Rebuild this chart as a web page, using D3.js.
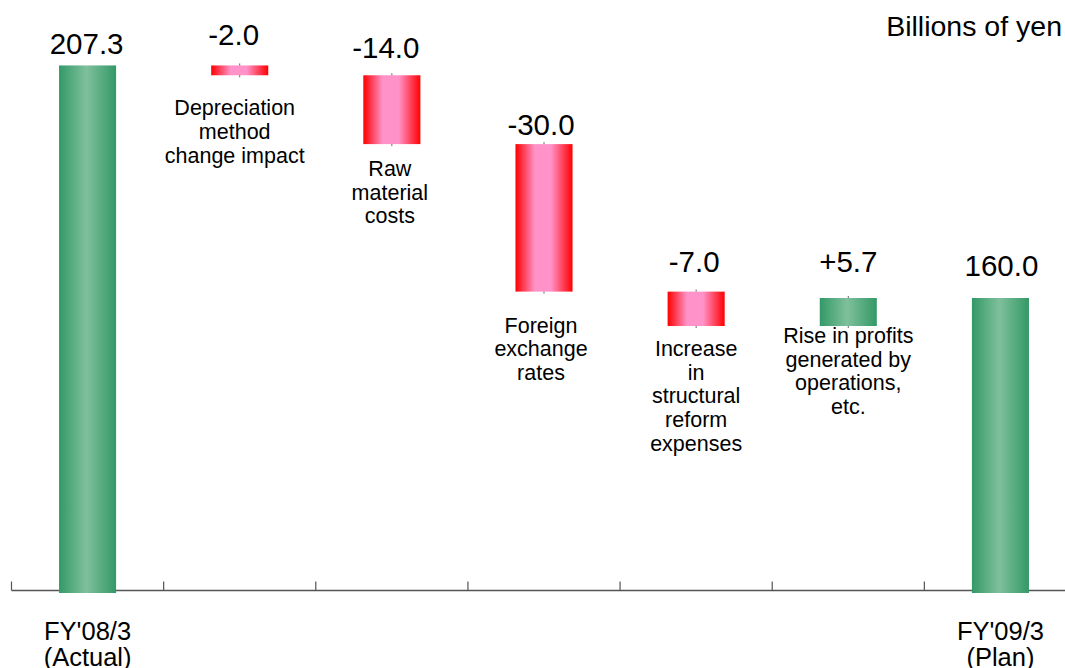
<!DOCTYPE html>
<html>
<head>
<meta charset="utf-8">
<script src="https://cdn.jsdelivr.net/npm/d3@7"></script>
<style>
  body { margin: 0; background: #fff; }
  svg { display: block; font-family: "Liberation Sans", Arial, sans-serif; }
</style>
</head>
<body>
<div id="chart"></div>
<script>
const width = 1065;
const height = 668;

// Chart data
const categories = ['FY08', 'Depreciation', 'RawMaterial', 'FX', 'Restructuring', 'Operations', 'FY09'];
const values = [207.3, -2.0, -14.0, -30.0, -7.0, 5.7, 160.0];
const kinds = ['total', 'delta', 'delta', 'delta', 'delta', 'delta', 'total'];
const valueLabels = ['207.3', '-2.0', '-14.0', '-30.0', '-7.0', '+5.7', '160.0'];
const categoryLabels = [
    ["FY'08/3", '(Actual)'],
    ['Depreciation', 'method', 'change impact'],
    ['Raw', 'material', 'costs'],
    ['Foreign', 'exchange', 'rates'],
    ['Increase', 'in', 'structural', 'reform', 'expenses'],
    ['Rise in profits', 'generated by', 'operations,', 'etc.'],
    ["FY'09/3", '(Plan)']
];
const unitLabel = 'Billions of yen';
const yDomain = [100, 220];

// hand placed label nudges (pixels), like the original slide
const valueGap = [11, 20, 17, 9, 20, 26, 22];
const valueDx = [-1, -6, -6, -3, -2, 0, 1];
const catGap = [0, 40, 32, 41, 30, 17, 0];
const catDx = [0, -5, -2, -3, 0, 0, 0];

// Build the waterfall steps
let running = 0;
const bars = categories.map((c, i) => {
    let lo, hi;
    if (kinds[i] === 'total') {
        lo = yDomain[0];
        hi = values[i];
        running = values[i];
    } else {
        const start = running;
        running = start + values[i];
        lo = Math.min(start, running);
        hi = Math.max(start, running);
    }
    return { key: c, i: i, lo: lo, hi: hi, kind: kinds[i], value: values[i] };
});

const x = d3.scaleBand()
    .domain(categories)
    .range([11.5, 1076.5])
    .padding(0);

const y = d3.scaleLinear()
    .domain(yDomain)
    .range([593, 3]);

const barWidth = x.bandwidth() * 0.375;
const axisY = 590.5;

const svg = d3.select('#chart').append('svg')
    .attr('width', width)
    .attr('height', height);

// Gradients for the bars
const defs = svg.append('defs');
const green = defs.append('linearGradient').attr('id', 'gradGreen');
green.append('stop').attr('offset', '0%').attr('stop-color', '#339966');
green.append('stop').attr('offset', '48%').attr('stop-color', '#7fc09c');
green.append('stop').attr('offset', '100%').attr('stop-color', '#339966');

const red = defs.append('linearGradient').attr('id', 'gradRed');
red.append('stop').attr('offset', '0%').attr('stop-color', '#ff0000');
red.append('stop').attr('offset', '34%').attr('stop-color', '#ff93c9');
red.append('stop').attr('offset', '62%').attr('stop-color', '#ff93c9');
red.append('stop').attr('offset', '100%').attr('stop-color', '#ff0000');

// Category axis: a baseline with upward ticks on band boundaries
svg.append('line')
    .attr('x1', x.range()[0])
    .attr('x2', x.range()[1])
    .attr('y1', axisY)
    .attr('y2', axisY)
    .attr('stroke', '#555')
    .attr('stroke-width', 1.6);

svg.selectAll('line.tick')
    .data(categories)
    .enter()
    .append('line')
    .attr('class', 'tick')
    .attr('x1', d => x(d))
    .attr('x2', d => x(d))
    .attr('y1', axisY - 9)
    .attr('y2', axisY)
    .attr('stroke', '#555')
    .attr('stroke-width', 1.2);

// Bars
const center = d => x(d.key) + x.bandwidth() / 2;

svg.selectAll('rect.bar')
    .data(bars)
    .enter()
    .append('rect')
    .attr('class', 'bar')
    .attr('x', d => center(d) - barWidth / 2)
    .attr('width', barWidth)
    .attr('y', d => y(d.hi))
    .attr('height', d => y(d.lo) - y(d.hi))
    .attr('fill', d => (d.kind === 'total' || d.value > 0) ? 'url(#gradGreen)' : 'url(#gradRed)');

// small leader stubs at the ends of the floating bars
const stubs = [];
bars.forEach(d => {
    if (d.kind === 'delta') {
        stubs.push({ x: center(d), y1: y(d.hi) - 2, y2: y(d.hi) });
        stubs.push({ x: center(d), y1: y(d.lo), y2: y(d.lo) + 2 });
    }
});
svg.selectAll('line.stub')
    .data(stubs)
    .enter()
    .append('line')
    .attr('class', 'stub')
    .attr('x1', d => d.x)
    .attr('x2', d => d.x)
    .attr('y1', d => d.y1)
    .attr('y2', d => d.y2)
    .attr('stroke', '#666')
    .attr('stroke-width', 1);

// Value labels above bars
svg.selectAll('text.value')
    .data(bars)
    .enter()
    .append('text')
    .attr('class', 'value')
    .attr('x', d => center(d) + valueDx[d.i])
    .attr('y', d => y(d.hi) - valueGap[d.i])
    .attr('text-anchor', 'middle')
    .attr('font-size', '29.5px')
    .attr('fill', '#000')
    .text(d => valueLabels[d.i]);

// Category labels: under the floating bars, below the axis for totals
const catText = svg.selectAll('text.cat')
    .data(bars)
    .enter()
    .append('text')
    .attr('class', 'cat')
    .attr('text-anchor', 'middle')
    .attr('fill', '#000')
    .attr('font-size', d => d.kind === 'total' ? '25.5px' : '21.5px')
    .attr('transform', d => {
        const ty = d.kind === 'total' ? 640 : y(d.lo) + catGap[d.i];
        return `translate(${center(d) + catDx[d.i]}, ${ty})`;
    });

catText.selectAll('tspan')
    .data(d => categoryLabels[d.i].map(line => ({ line: line, total: d.kind === 'total' })))
    .enter()
    .append('tspan')
    .attr('x', 0)
    .attr('y', (d, j) => j * (d.total ? 25.5 : 23.7))
    .text(d => d.line);

// Unit label
svg.append('text')
    .attr('x', 1062)
    .attr('y', 36)
    .attr('text-anchor', 'end')
    .attr('font-size', '28.5px')
    .attr('fill', '#000')
    .text(unitLabel);
</script>
</body>
</html>
